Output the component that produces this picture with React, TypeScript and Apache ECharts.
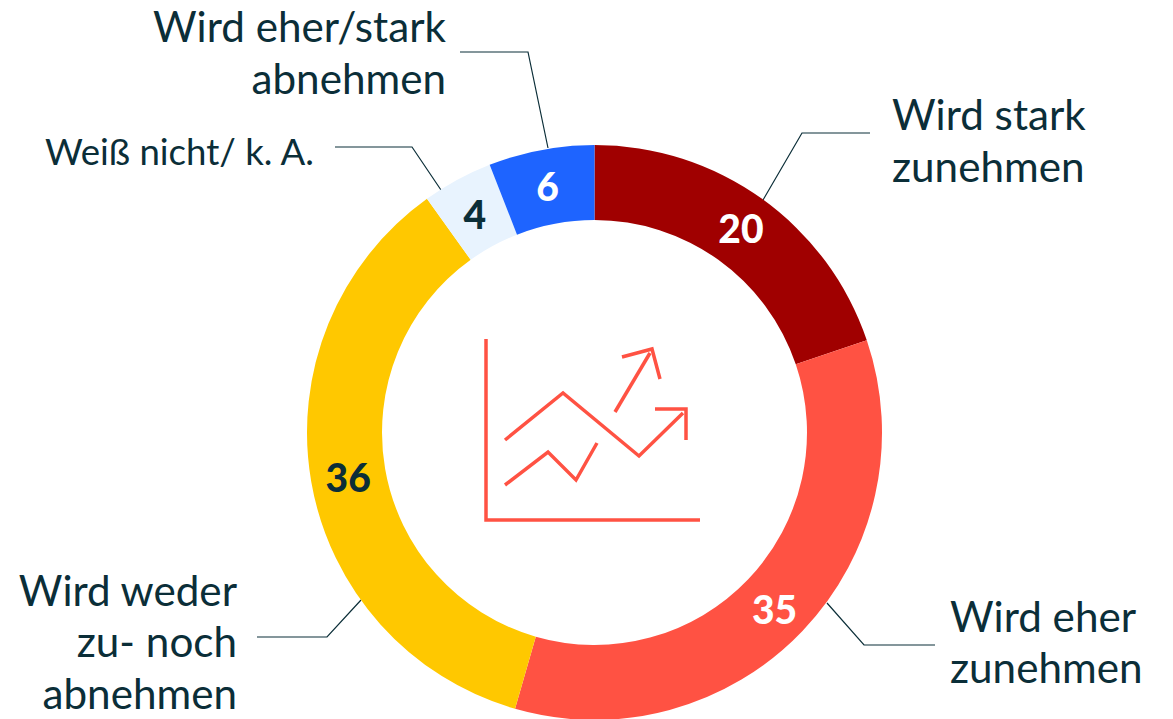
import React, { useEffect, useRef } from "react";
import * as echarts from "echarts";

const categories = ["Wird stark\nzunehmen", "Wird eher\nzunehmen", "Wird weder\nzu- noch\nabnehmen", "Weiß nicht/ k. A.", "Wird eher/stark\nabnehmen"];
const values = [20, 35, 36, 4, 6];
const sliceColors = ["#a00000", "#ff5243", "#ffc800", "#e8f3fe", "#1e64ff"];
const valueColors = ["#ffffff", "#ffffff", "#0b2e38", "#0b2e38", "#ffffff"];
const valueOffsets = [[-1, 1.5], [-3, 2], [3, 1], [1, 4], [0, 2]];

const INK = "#0b2e38";
const ICON = "#ff5243";
const FONT = "Lato, 'Open Sans', sans-serif";

const leaders: number[][][] = [
  [[870, 133], [802, 133], [763, 200]],
  [[935, 645], [864, 645], [827, 603]],
  [[257, 637], [327, 637], [361, 600]],
  [[335, 147], [412, 147], [441, 190]],
  [[460, 52], [528, 52], [548, 148]],
];

const labelBoxes = [
  { x: 892, y: 139.5, align: "left", size: 42.2, lh: 52 },
  { x: 950, y: 641, align: "left", size: 42.2, lh: 51 },
  { x: 237, y: 640.5, align: "right", size: 42.2, lh: 51.5 },
  { x: 314, y: 151, align: "right", size: 36.6, lh: 40 },
  { x: 446, y: 51.5, align: "right", size: 42.2, lh: 52 },
];

const iconLines: number[][][] = [
  [[486, 339], [486, 520], [700, 520]],
  [[505, 440], [563, 393], [639, 456], [683, 413]],
  [[655, 409], [686, 409], [686, 440]],
  [[505, 485], [548, 452], [576, 480], [597, 443]],
  [[615, 412], [650, 353]],
  [[622, 357], [652, 349], [660, 379]],
];

export default function App() {
  const ref = useRef<HTMLDivElement>(null);
  useEffect(() => {
    const chart = echarts.init(ref.current!, undefined, { renderer: "svg" });
    chart.setOption({
      animation: false,
      backgroundColor: "#ffffff",
      series: [
        {
          type: "pie",
          center: [594.5, 432.5],
          radius: [212.5, 287.5],
          startAngle: 90,
          clockwise: true,
          silent: true,
          avoidLabelOverlap: false,
          labelLine: { show: false },
          data: categories.map((name, i) => ({
            name,
            value: values[i],
            itemStyle: { color: sliceColors[i] },
            label: {
              show: true,
              position: "inside",
              formatter: "{c}",
              color: valueColors[i],
              fontFamily: FONT,
              fontWeight: 900,
              fontSize: 39,
              offset: valueOffsets[i],
            },
          })),
        },
      ],
      graphic: [
        ...leaders.map((points) => ({
          type: "polyline",
          shape: { points },
          style: { stroke: INK, lineWidth: 1.2, fill: "none" },
        })),
        ...iconLines.map((points) => ({
          type: "polyline",
          shape: { points },
          style: { stroke: ICON, lineWidth: 3.5, fill: "none" },
        })),
        ...categories.map((text, i) => ({
          type: "text",
          x: labelBoxes[i].x,
          y: labelBoxes[i].y,
          style: {
            text,
            fill: INK,
            font: `${labelBoxes[i].size}px ${FONT}`,
            align: labelBoxes[i].align,
            verticalAlign: "middle",
            lineHeight: labelBoxes[i].lh,
          },
        })),
      ],
    });
    return () => chart.dispose();
  }, []);
  return <div ref={ref} style={{ position: "fixed", left: 0, top: 0, width: 1173, height: 719 }} />;
}
